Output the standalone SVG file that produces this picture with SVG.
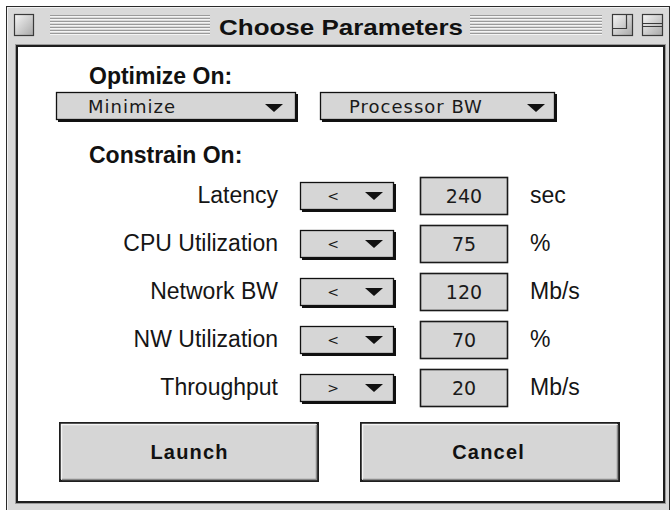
<svg xmlns="http://www.w3.org/2000/svg" width="671" height="510" viewBox="0 0 671 510">
  <style>
    .label { font-family: "Liberation Sans", Arial, sans-serif; font-size: 23px; fill: #151515; }
    .head { font-family: "Liberation Sans", Arial, sans-serif; font-size: 23px; font-weight: bold; fill: #111; }
    .geneva { font-family: "DejaVu Sans", Verdana, sans-serif; font-size: 18px; fill: #1a1a1a; letter-spacing: 1px; }
    .value { font-family: "DejaVu Sans", Verdana, sans-serif; font-size: 19px; fill: #1a1a1a; text-anchor: middle; }
    .sym { font-family: "DejaVu Sans", Verdana, sans-serif; font-size: 14px; fill: #1a1a1a; text-anchor: middle; }
    .btxt { font-family: "Liberation Sans", Arial, sans-serif; font-size: 20px; font-weight: bold; fill: #111; letter-spacing: 1.2px; text-anchor: middle; }
    .pop { fill: #d6d6d6; stroke: #111; stroke-width: 1.3; }
    .shadow { fill: #111; }
    .field { fill: #d6d6d6; stroke: #1a1a1a; stroke-width: 1.6; }
    .arrow { fill: #111; }
    .stripe { stroke: #9a9a9a; stroke-width: 1; }
    .stripe-hi { stroke: #f4f4f4; stroke-width: 1; }
  </style>
  <defs>
    <linearGradient id="boxShade" x1="0" y1="0" x2="1" y2="1">
      <stop offset="0" stop-color="#f6f6f6"/>
      <stop offset="1" stop-color="#a8a8a8"/>
    </linearGradient>
    <pattern id="stripes" x="0" y="15" width="4" height="3" patternUnits="userSpaceOnUse">
      <rect x="0" y="0" width="4" height="1" fill="#9a9a9a"/>
      <rect x="0" y="1" width="4" height="1" fill="#f4f4f4"/>
      <rect x="0" y="2" width="4" height="1" fill="#d9d9d9"/>
    </pattern>
  </defs>

  <!-- page background -->
  <rect x="0" y="0" width="671" height="510" fill="#ffffff"/>

  <!-- window frame -->
  <g id="window-frame">
    <rect x="6.5" y="6.5" width="663" height="520" fill="#d9d9d9" stroke="#2a2a2a" stroke-width="1"/>
    <path d="M7.5 520 V7.5 H668.5" fill="none" stroke="#f2f2f2" stroke-width="1"/>
  </g>

  <!-- title bar -->
  <g id="title-bar">
    <rect x="50" y="15" width="160" height="21" fill="url(#stripes)"/>
    <rect x="470" y="15" width="132" height="21" fill="url(#stripes)"/>
    <text x="341" y="35" text-anchor="middle" font-family="'Liberation Sans', Arial, sans-serif" font-size="22" font-weight="bold" fill="#111" textLength="244" lengthAdjust="spacingAndGlyphs">Choose Parameters</text>
  </g>

  <g id="close-box">
    <rect x="14.5" y="14.5" width="19" height="21" fill="url(#boxShade)" stroke="#3a3a3a" stroke-width="1.2"/>
  </g>
  <g id="zoom-box">
    <rect x="612.5" y="14.5" width="20" height="21" fill="url(#boxShade)" stroke="#3a3a3a" stroke-width="1.2"/>
    <path d="M626.5 14.5 V28.5 H612.5" fill="none" stroke="#3a3a3a" stroke-width="1.2"/>
  </g>
  <g id="collapse-box">
    <rect x="642.5" y="14.5" width="20" height="21" fill="url(#boxShade)" stroke="#3a3a3a" stroke-width="1.2"/>
    <path d="M642.5 23.5 H662.5 M642.5 26.5 H662.5" fill="none" stroke="#3a3a3a" stroke-width="1.2"/>
  </g>

  <!-- content area -->
  <g id="content">
    <rect x="15.5" y="44.5" width="650" height="459" fill="none" stroke="#9a9a9a" stroke-width="1"/>
    <rect x="17" y="46" width="647" height="456" fill="#ffffff" stroke="#1e1e1e" stroke-width="2"/>
  </g>

  <!-- optimize section -->
  <g id="optimize-heading">
    <text class="head" x="89" y="84">Optimize On:</text>
  </g>
  <g id="optimize-mode">
    <rect class="shadow" x="58" y="94" width="240" height="28"/>
    <rect class="pop" x="56.5" y="92.5" width="239" height="27"/>
    <text class="geneva" x="88" y="113">Minimize</text>
    <polygon class="arrow" points="265,104 283,104 274,112"/>
  </g>
  <g id="optimize-metric">
    <rect class="shadow" x="322" y="94" width="235" height="28"/>
    <rect class="pop" x="320.5" y="92.5" width="234" height="27"/>
    <text class="geneva" x="349" y="113">Processor BW</text>
    <polygon class="arrow" points="527,104 545,104 536,112"/>
  </g>

  <!-- constraints section -->
  <g id="constrain-heading">
    <text class="head" x="89" y="163">Constrain On:</text>
  </g>

  <g id="row-latency">
    <text class="label" x="278" y="203" text-anchor="end">Latency</text>
    <rect class="shadow" x="302" y="184" width="94" height="28"/>
    <rect class="pop" x="300.5" y="182.5" width="93" height="27"/>
    <text class="sym" x="333" y="201">&lt;</text>
    <polygon class="arrow" points="365,192 383,192 374,200"/>
    <rect class="field" x="420.5" y="177.5" width="87" height="37"/>
    <text class="value" x="464" y="203">240</text>
    <text class="label" x="530" y="203">sec</text>
  </g>

  <g id="row-cpu">
    <text class="label" x="278" y="251" text-anchor="end">CPU Utilization</text>
    <rect class="shadow" x="302" y="232" width="94" height="28"/>
    <rect class="pop" x="300.5" y="230.5" width="93" height="27"/>
    <text class="sym" x="333" y="249">&lt;</text>
    <polygon class="arrow" points="365,240 383,240 374,248"/>
    <rect class="field" x="420.5" y="225.5" width="87" height="37"/>
    <text class="value" x="464" y="251">75</text>
    <text class="label" x="530" y="251">%</text>
  </g>

  <g id="row-network">
    <text class="label" x="278" y="299" text-anchor="end">Network BW</text>
    <rect class="shadow" x="302" y="280" width="94" height="28"/>
    <rect class="pop" x="300.5" y="278.5" width="93" height="27"/>
    <text class="sym" x="333" y="297">&lt;</text>
    <polygon class="arrow" points="365,288 383,288 374,296"/>
    <rect class="field" x="420.5" y="273.5" width="87" height="37"/>
    <text class="value" x="464" y="299">120</text>
    <text class="label" x="530" y="299">Mb/s</text>
  </g>

  <g id="row-nw-util">
    <text class="label" x="278" y="347" text-anchor="end">NW Utilization</text>
    <rect class="shadow" x="302" y="328" width="94" height="28"/>
    <rect class="pop" x="300.5" y="326.5" width="93" height="27"/>
    <text class="sym" x="333" y="345">&lt;</text>
    <polygon class="arrow" points="365,336 383,336 374,344"/>
    <rect class="field" x="420.5" y="321.5" width="87" height="37"/>
    <text class="value" x="464" y="347">70</text>
    <text class="label" x="530" y="347">%</text>
  </g>

  <g id="row-throughput">
    <text class="label" x="278" y="395" text-anchor="end">Throughput</text>
    <rect class="shadow" x="302" y="376" width="94" height="28"/>
    <rect class="pop" x="300.5" y="374.5" width="93" height="27"/>
    <text class="sym" x="333" y="393">&gt;</text>
    <polygon class="arrow" points="365,384 383,384 374,392"/>
    <rect class="field" x="420.5" y="369.5" width="87" height="37"/>
    <text class="value" x="464" y="395">20</text>
    <text class="label" x="530" y="395">Mb/s</text>
  </g>

  <!-- buttons -->
  <g id="launch-button">
    <rect x="60" y="423" width="258" height="58" fill="#d6d6d6" stroke="#1e1e1e" stroke-width="2"/>
    <path d="M61.5 479 V424.5 H316" fill="none" stroke="#f4f4f4" stroke-width="1.5"/>
    <path d="M62 479.5 H316.5 V425" fill="none" stroke="#8a8a8a" stroke-width="1.5"/>
    <text class="btxt" x="189.6" y="459">Launch</text>
  </g>
  <g id="cancel-button">
    <rect x="361" y="423" width="258" height="58" fill="#d6d6d6" stroke="#1e1e1e" stroke-width="2"/>
    <path d="M362.5 479 V424.5 H617" fill="none" stroke="#f4f4f4" stroke-width="1.5"/>
    <path d="M363 479.5 H617.5 V425" fill="none" stroke="#8a8a8a" stroke-width="1.5"/>
    <text class="btxt" x="488.6" y="459">Cancel</text>
  </g>

  <g id="connectors"/>
</svg>
